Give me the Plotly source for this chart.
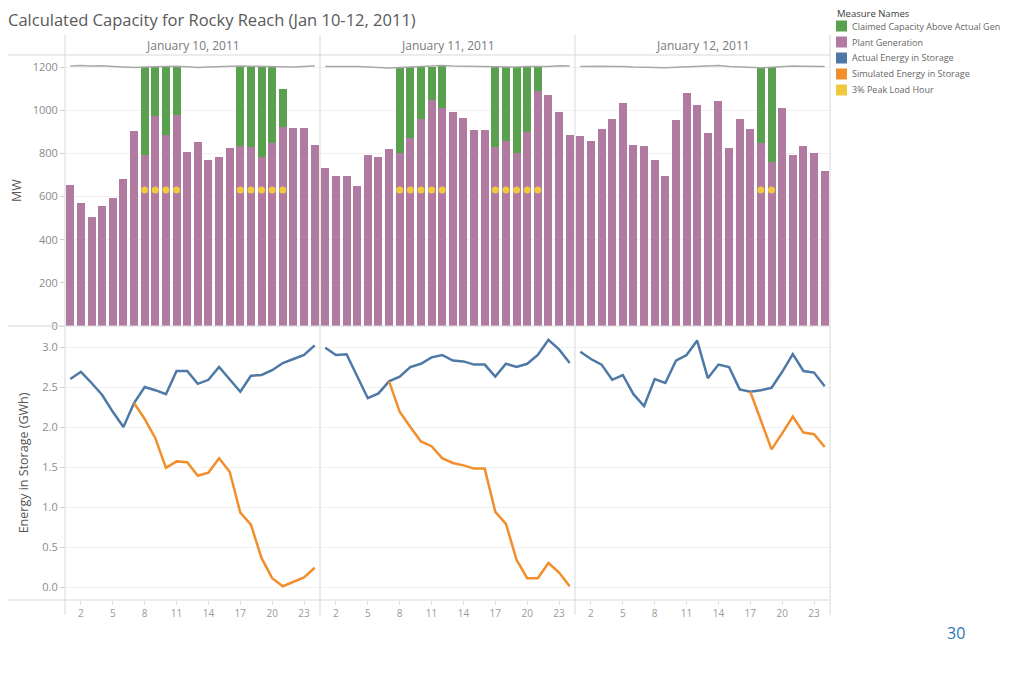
import plotly.graph_objects as go
from plotly.subplots import make_subplots

# ---------------- data ----------------
hours = list(range(1, 25))
day_labels = ["January 10, 2011", "January 11, 2011", "January 12, 2011"]

# Plant Generation (MW)
gen_jan10 = [653, 568, 506, 556, 591, 682, 903, 792, 974, 887, 980, 807,
             853, 768, 784, 826, 833, 830, 784, 846, 923, 918, 918, 838]
gen_jan11 = [734, 694, 697, 648, 792, 781, 821, 804, 869, 961, 1046, 1012,
             992, 966, 910, 906, 830, 855, 804, 901, 1089, 1072, 992, 887]
gen_jan12 = [880, 858, 915, 960, 1035, 841, 833, 768, 697, 954, 1082, 1023,
             894, 1042, 823, 960, 912, 850, 759, 1012, 792, 835, 802, 719]

# Claimed Capacity Above Actual Gen (MW)
claim_jan10 = [0, 0, 0, 0, 0, 0, 0, 408, 226, 313, 220, 0,
               0, 0, 0, 0, 367, 370, 416, 354, 174, 0, 0, 0]
claim_jan11 = [0, 0, 0, 0, 0, 0, 0, 396, 331, 239, 154, 193,
               0, 0, 0, 0, 370, 345, 396, 299, 111, 0, 0, 0]
claim_jan12 = [0, 0, 0, 0, 0, 0, 0, 0, 0, 0, 0, 0,
               0, 0, 0, 0, 0, 350, 441, 0, 0, 0, 0, 0]

# Plant capacity reference (MW)
cap_jan10 = [1205, 1207, 1205, 1206, 1203, 1200, 1198, 1200, 1202, 1203, 1204, 1201,
             1198, 1200, 1202, 1203, 1205, 1204, 1203, 1201, 1199, 1200, 1203, 1206]
cap_jan11 = [1203, 1204, 1203, 1202, 1199, 1196, 1195, 1198, 1200, 1203, 1205, 1207,
             1205, 1204, 1203, 1201, 1200, 1198, 1200, 1203, 1202, 1203, 1206, 1205]
cap_jan12 = [1203, 1205, 1204, 1202, 1203, 1200, 1198, 1196, 1197, 1199, 1201, 1203,
             1205, 1207, 1202, 1200, 1198, 1197, 1199, 1203, 1205, 1204, 1202, 1203]

# 3% Peak Load Hours
peak_jan10 = [8, 9, 10, 11, 17, 18, 19, 20, 21]
peak_jan11 = [8, 9, 10, 11, 12, 17, 18, 19, 20, 21]
peak_jan12 = [18, 19]
PEAK_MARK_MW = 630

# Actual Energy in Storage (GWh)
actual_jan10 = [2.60, 2.69, 2.55, 2.40, 2.19, 2.00, 2.30, 2.50, 2.46, 2.41, 2.70, 2.70,
                2.54, 2.59, 2.75, 2.59, 2.44, 2.64, 2.65, 2.71, 2.80, 2.85, 2.90, 3.02]
actual_jan11 = [2.99, 2.90, 2.91, 2.63, 2.36, 2.42, 2.57, 2.63, 2.75, 2.79, 2.87, 2.90,
                2.83, 2.82, 2.78, 2.78, 2.63, 2.79, 2.75, 2.79, 2.90, 3.09, 2.97, 2.80]
actual_jan12 = [2.94, 2.85, 2.78, 2.59, 2.65, 2.41, 2.26, 2.60, 2.55, 2.83, 2.90, 3.08,
                2.61, 2.78, 2.75, 2.47, 2.44, 2.46, 2.49, 2.69, 2.91, 2.70, 2.68, 2.51]

# Simulated Energy in Storage (GWh)
sim_jan10 = [None, None, None, None, None, None, 2.30, 2.10, 1.86, 1.49, 1.57, 1.56,
             1.39, 1.43, 1.61, 1.44, 0.93, 0.78, 0.36, 0.11, 0.01, 0.07, 0.12, 0.24]
sim_jan11 = [None, None, None, None, None, None, 2.57, 2.19, 2.00, 1.82, 1.76, 1.61,
             1.55, 1.52, 1.48, 1.48, 0.94, 0.79, 0.34, 0.11, 0.11, 0.30, 0.18, 0.01]
sim_jan12 = [None] * 16 + [2.44, 2.09, 1.72, 1.92, 2.13, 1.93, 1.91, 1.75]

x_ticks = [2, 5, 8, 11, 14, 17, 20, 23]
mw_ticks = [0, 200, 400, 600, 800, 1000, 1200]
gwh_ticks = [0.0, 0.5, 1.0, 1.5, 2.0, 2.5, 3.0]

legend_names = ["Claimed Capacity Above Actual Gen", "Plant Generation",
                "Actual Energy in Storage", "Simulated Energy in Storage",
                "3% Peak Load Hour"]

# ---------------- styles ----------------
C_GREEN = "#59a14f"
C_PURPLE = "#b07aa1"
C_BLUE = "#4e79a7"
C_ORANGE = "#f28e2b"
C_YELLOW = "#f1c93f"
C_CAP = "#a8a8a8"
FONT = "Open Sans"

gens = [gen_jan10, gen_jan11, gen_jan12]
claims = [claim_jan10, claim_jan11, claim_jan12]
caps = [cap_jan10, cap_jan11, cap_jan12]
peaks = [peak_jan10, peak_jan11, peak_jan12]
actuals = [actual_jan10, actual_jan11, actual_jan12]
sims = [sim_jan10, sim_jan11, sim_jan12]

W, H = 1011, 675
OFF = 8  # page body margin offset
PL, PT = 65, 55          # plot area left/top in screen px
PW, PH = 765, 545
TOP_H, BOT_H = 271, 274
ML, MT = PL - OFF, PT - OFF
MR = W - ML - PW
MB = H - MT - PH


def px(x):
    return (x - PL) / PW


def py(y):
    return (PT + PH - y) / PH


fig = make_subplots(rows=2, cols=3, horizontal_spacing=0, vertical_spacing=0,
                    row_heights=[TOP_H / PH, BOT_H / PH], shared_yaxes=True)

for i in range(3):
    col = i + 1
    fig.add_trace(go.Bar(x=hours, y=gens[i], marker_color=C_PURPLE, marker_line_width=0,
                         name=legend_names[1], showlegend=False), row=1, col=col)
    claim_y = [v if v > 0 else None for v in claims[i]]
    fig.add_trace(go.Bar(x=hours, y=claim_y, marker_color=C_GREEN, marker_line_width=0,
                         name=legend_names[0], showlegend=False), row=1, col=col)
    fig.add_trace(go.Scatter(x=hours, y=caps[i], mode="lines",
                             line=dict(color=C_CAP, width=1.5), showlegend=False,
                             hoverinfo="skip"), row=1, col=col)
    fig.add_trace(go.Scatter(x=peaks[i], y=[PEAK_MARK_MW] * len(peaks[i]), mode="markers",
                             marker=dict(color=C_YELLOW, size=7), name=legend_names[4],
                             showlegend=False), row=1, col=col)
    fig.add_trace(go.Scatter(x=hours, y=actuals[i], mode="lines",
                             line=dict(color=C_BLUE, width=2.5), name=legend_names[2],
                             showlegend=False), row=2, col=col)
    fig.add_trace(go.Scatter(x=hours, y=sims[i], mode="lines",
                             line=dict(color=C_ORANGE, width=2.5), name=legend_names[3],
                             showlegend=False), row=2, col=col)

axis_common = dict(showline=False, zeroline=False, gridcolor="#f1f1f1", gridwidth=1,
                   automargin=False)
for col in range(1, 4):
    fig.update_xaxes(range=[0.5, 24.5], showticklabels=False, showgrid=False,
                     zeroline=False, showline=False, automargin=False, row=1, col=col)
    fig.update_xaxes(range=[0.5, 24.5], tickvals=x_ticks, showgrid=False, zeroline=False,
                     showline=False, ticks="outside", ticklen=4, tickcolor="#e0e0e0",
                     automargin=False,
                     tickfont=dict(family=FONT, size=10, color="#9a9a9a"), row=2, col=col)
    fig.update_yaxes(range=[0, TOP_H / 0.2158], tickvals=mw_ticks,
                     showticklabels=(col == 1), ticks="outside" if col == 1 else "",
                     ticklen=4, tickcolor="#d0d0d0",
                     tickfont=dict(family=FONT, size=11, color="#8a8a8a"),
                     **axis_common, row=1, col=col)
    fig.update_yaxes(range=[-0.1625, 3.2625], tickvals=gwh_ticks, tickformat=".1f",
                     showticklabels=(col == 1), ticks="outside" if col == 1 else "",
                     ticklen=4, tickcolor="#d0d0d0",
                     tickfont=dict(family=FONT, size=11, color="#8a8a8a"),
                     **axis_common, row=2, col=col)

fig.update_yaxes(title=dict(text="MW", font=dict(family=FONT, size=12.5, color="#555"),
                            standoff=12), row=1, col=1)
fig.update_yaxes(title=dict(text="Energy in Storage (GWh)",
                            font=dict(family=FONT, size=12.5, color="#555"), standoff=10),
                 row=2, col=1)

shapes = []
LINE = dict(color="#d9d9d9", width=1)
for xp in [65, 320, 575, 830]:
    shapes.append(dict(type="line", xref="paper", yref="paper", x0=px(xp), x1=px(xp),
                       y0=py(35), y1=py(615), line=LINE))
for yp in [55, 326, 600]:
    shapes.append(dict(type="line", xref="paper", yref="paper", x0=px(0), x1=px(830),
                       y0=py(yp), y1=py(yp), line=LINE))

annotations = []
annotations.append(dict(text="Calculated Capacity for Rocky Reach (Jan 10-12, 2011)",
                        xref="paper", yref="paper", x=px(6), y=py(20), xanchor="left",
                        yanchor="middle", showarrow=False,
                        font=dict(family=FONT, size=16.5, color="#595959")))
for i, lab in enumerate(day_labels):
    annotations.append(dict(text=lab, xref="paper", yref="paper",
                            x=(i + 0.5) / 3, y=py(45), xanchor="center", yanchor="middle",
                            showarrow=False, font=dict(family=FONT, size=12, color="#7a7a7a")))

annotations.append(dict(text="Measure Names", xref="paper", yref="paper", x=px(835),
                        y=py(13), xanchor="left", yanchor="middle", showarrow=False,
                        font=dict(family=FONT, size=9.5, color="#3c3c3c")))
leg_colors = [C_GREEN, C_PURPLE, C_BLUE, C_ORANGE, C_YELLOW]
for k, (nm, c) in enumerate(zip(legend_names, leg_colors)):
    yc = 26 + 16 * k
    shapes.append(dict(type="rect", xref="paper", yref="paper", x0=px(836), x1=px(847),
                       y0=py(yc - 5.5), y1=py(yc + 5.5), fillcolor=c, line=dict(width=0)))
    annotations.append(dict(text=nm, xref="paper", yref="paper", x=px(850), y=py(yc),
                            xanchor="left", yanchor="middle", showarrow=False,
                            font=dict(family=FONT, size=9, color="#666")))

annotations.append(dict(text="30", xref="paper", yref="paper", x=px(956), y=py(633),
                        xanchor="center", yanchor="middle", showarrow=False,
                        font=dict(family=FONT, size=16, color="#2e75b6")))

fig.update_layout(width=W, height=H, margin=dict(l=ML, r=MR, t=MT, b=MB, autoexpand=False),
                  paper_bgcolor="white", plot_bgcolor="white", barmode="stack",
                  bargap=0.25, showlegend=False, shapes=shapes, annotations=annotations,
                  font=dict(family=FONT))

fig.write_html("out.html")
